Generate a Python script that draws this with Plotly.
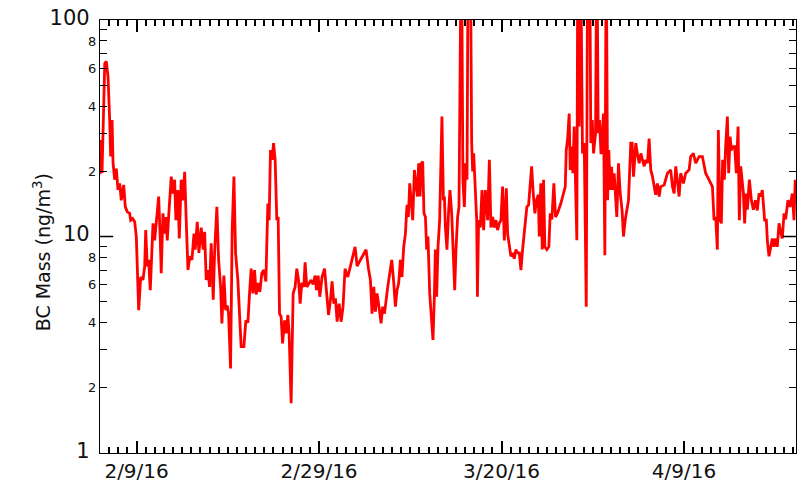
import pandas as pd
import plotly.graph_objects as go

# days after 2016-02-09 00:00
day_offset = [
    -4.04, -3.93, -3.79, -3.68, -3.49, -3.32, -3.13, -2.95, -2.84, -2.69, -2.58, -2.40, -2.22, -2.04, -1.85,
    -1.68, -1.41, -1.24, -1.02, -0.76, -0.65, -0.43, -0.21, -0.03, 0.23, 0.45, 0.70, 0.89, 1.00, 1.17,
    1.32, 1.50, 1.80, 1.98, 2.16, 2.42, 2.60, 2.70, 2.89, 3.08, 3.25, 3.36, 3.58, 3.80, 3.99,
    4.17, 4.31, 4.53, 4.68, 4.89, 5.08, 5.27, 5.44, 5.63, 5.85, 6.07, 6.29, 6.43, 6.65, 6.83,
    7.08, 7.30, 7.46, 7.63, 7.82, 8.00, 8.18, 8.40, 8.55, 8.80, 8.99, 9.21, 9.35, 9.57, 9.76,
    9.93, 10.08, 10.30, 10.48, 10.67, 10.85, 11.10, 11.46, 11.76, 11.98, 12.20, 12.38, 12.56, 12.75, 12.93,
    13.11, 13.29, 13.51, 13.73, 13.95, 14.17, 14.39, 14.53, 14.68, 14.86, 15.01, 15.19, 15.37, 15.52, 15.67,
    15.84, 16.00, 16.22, 16.39, 16.58, 16.72, 16.94, 17.16, 17.38, 17.56, 17.75, 17.93, 18.11, 18.33, 18.47,
    18.66, 18.91, 19.13, 19.35, 19.57, 19.72, 19.90, 20.08, 20.33, 20.60, 20.82, 21.04, 21.25, 21.43, 21.62,
    21.80, 21.98, 22.20, 22.42, 22.63, 22.85, 23.15, 23.51, 23.95, 24.17, 24.61, 25.15, 25.42, 25.63, 25.81,
    26.00, 26.18, 26.36, 26.62, 26.80, 26.98, 27.17, 27.53, 27.97, 28.19, 28.37, 28.55, 28.73, 28.92, 29.09,
    29.28, 29.47, 29.64, 29.79, 29.94, 30.08, 30.27, 30.45, 30.59, 30.78, 30.92, 31.07, 31.22, 31.36, 31.50,
    31.66, 31.80, 31.94, 32.13, 32.27, 32.49, 32.64, 32.75, 32.89, 33.04, 33.22, 33.47, 33.63, 33.74, 33.85,
    34.02, 34.21, 34.35, 34.54, 34.68, 34.87, 35.01, 35.19, 35.34, 35.45, 35.60, 35.77, 35.93, 36.07, 36.22,
    36.37, 36.57, 36.73, 36.84, 36.95, 37.09, 37.28, 37.36, 37.49, 37.68, 37.86, 38.04, 38.23, 38.48, 38.67,
    38.84, 39.03, 39.21, 39.39, 39.57, 39.76, 39.94, 40.12, 40.31, 40.53, 40.67, 40.89, 41.03, 41.22, 41.40,
    41.58, 41.76, 41.95, 42.13, 42.31, 42.56, 42.78, 42.97, 43.15, 43.30, 43.48, 43.66, 43.84, 44.03, 44.14,
    44.31, 44.47, 44.61, 44.75, 44.97, 45.19, 45.34, 45.52, 45.74, 45.92, 46.14, 46.50, 46.99, 47.10, 47.24,
    47.42, 47.53, 47.71, 47.82, 47.97, 48.11, 48.26, 48.37, 48.52, 48.66, 48.88, 49.07, 49.29, 49.46, 49.65,
    49.79, 49.95, 50.09, 50.31, 50.45, 50.60, 50.74, 50.91, 51.18, 51.33, 51.48, 51.63, 51.76, 51.91, 52.06,
    52.20, 52.35, 52.50, 52.64, 52.82, 53.01, 53.23, 53.37, 53.56, 53.73, 53.92, 54.17, 54.32, 54.47, 54.72,
    54.90, 55.09, 55.27, 55.45, 55.64, 55.81, 56.00, 56.18, 56.36, 56.54, 56.73, 56.90, 57.09, 57.28, 57.45,
    57.83, 58.19, 58.55, 58.74, 58.92, 59.10, 59.28, 59.47, 59.64, 59.94, 60.19, 60.56, 60.74, 61.03, 61.29,
    61.66, 62.02, 62.21, 62.38, 62.57, 62.75, 63.12, 63.30, 63.48, 63.66, 63.77, 63.96, 64.10, 64.24, 64.43,
    64.57, 64.76, 64.90, 65.06, 65.20, 65.34, 65.56, 65.74, 65.93, 66.07, 66.22, 66.40, 66.51, 66.65, 66.81,
    66.95, 67.17, 67.39, 67.61, 67.83, 68.04, 68.23, 68.41, 68.59, 68.70, 68.84, 69.03, 69.14, 69.32, 69.50,
    69.69, 69.87, 70.05, 70.23, 70.42, 70.59, 70.78, 70.97, 71.14, 71.40, 71.62, 71.88, 72.06, 72.20,
]

bc_mass = [
    19.4, 27.9, 19.6, 28.9, 63.0, 64.4, 54.7, 34.5, 23.4, 34.5, 21.8, 18.3, 20.6, 16.4, 17.6,
    14.7, 17.3, 13.7, 13.0, 12.8, 11.9, 12.1, 11.7, 10.0, 4.57, 6.5, 6.3, 7.3, 10.7, 7.3,
    7.8, 5.65, 11.5, 9.6, 11.5, 15.3, 9.6, 6.76, 12.8, 10.3, 12.3, 9.6, 13.7, 18.9, 15.8,
    18.3, 11.9, 16.4, 9.8, 18.3, 14.7, 19.9, 11.9, 7.0, 8.1, 7.8, 10.3, 8.7, 11.7, 8.4,
    11.0, 8.7, 10.5, 6.3, 7.0, 5.85, 9.3, 5.1, 8.4, 13.7, 7.8, 5.85, 3.97, 6.6, 4.57,
    4.8, 4.4, 2.46, 10.7, 18.9, 8.4, 6.3, 3.1, 3.1, 4.1, 4.0, 5.46, 7.1, 5.46, 7.0,
    5.4, 6.1, 5.55, 6.76, 7.0, 6.2, 14.2, 11.9, 25.1, 22.6, 27.0, 22.6, 11.9, 12.3, 4.4,
    4.26, 3.21, 4.1, 3.57, 4.34, 3.57, 1.70, 5.46, 5.85, 7.1, 6.3, 4.9, 6.1, 5.85, 7.6,
    5.85, 6.1, 6.3, 6.0, 6.6, 5.65, 6.6, 5.27, 6.5, 7.1, 5.65, 4.34, 5.1, 6.2, 4.9,
    5.18, 4.04, 4.9, 4.04, 4.74, 7.1, 6.5, 7.5, 8.96, 7.3, 7.9, 8.7, 7.1, 6.3, 4.4,
    5.85, 4.5, 5.46, 4.57, 3.97, 4.74, 4.4, 5.85, 7.8, 6.1, 4.74, 5.65, 6.1, 7.8, 6.5,
    8.96, 10.3, 14.0, 12.3, 17.6, 14.2, 11.9, 20.3, 17.6, 15.3, 21.8, 15.3, 21.8, 22.2, 12.8,
    12.3, 8.7, 10.0, 5.46, 4.57, 3.33, 5.27, 8.7, 5.27, 8.96, 11.9, 35.8, 14.7, 15.3, 11.0,
    8.7, 13.3, 16.4, 12.8, 8.7, 5.65, 8.7, 12.3, 13.7, 250.0, 300.0, 18.3, 13.7, 21.8, 18.3,
    400.0, 280.0, 27.0, 20.0, 24.2, 16.4, 11.9, 5.27, 11.9, 11.0, 16.4, 10.7, 16.4, 11.9, 22.6,
    11.0, 12.3, 11.0, 11.9, 10.7, 11.5, 11.9, 17.0, 9.6, 16.7, 10.3, 8.96, 8.1, 8.4, 7.9,
    8.7, 8.4, 8.4, 7.0, 8.7, 11.0, 13.7, 14.0, 18.3, 21.1, 15.8, 12.8, 14.7, 15.6, 10.0,
    17.6, 8.7, 18.3, 8.96, 8.7, 8.96, 12.8, 12.0, 17.6, 12.3, 12.8, 14.2, 17.0, 25.1, 27.9,
    37.0, 20.3, 26.0, 19.6, 32.2, 20.0, 9.6, 300.0, 32.2, 250.0, 24.2, 27.0, 4.74, 350.0, 300.0,
    27.0, 34.5, 24.2, 30.0, 280.0, 30.0, 34.5, 24.0, 37.0, 8.2, 260.0, 14.7, 25.1, 16.4, 21.0,
    16.4, 19.6, 14.7, 12.3, 21.8, 16.0, 13.0, 10.0, 11.9, 13.0, 14.7, 27.0, 27.0, 18.9, 27.0,
    24.0, 21.8, 24.2, 22.6, 21.1, 22.6, 21.8, 28.3, 20.3, 19.0, 17.0, 15.6, 17.6, 15.3, 17.0,
    17.3, 19.6, 20.3, 17.0, 15.8, 21.1, 18.5, 15.3, 19.6, 17.6, 19.6, 20.3, 23.4, 24.2, 21.8,
    23.4, 23.4, 21.1, 19.6, 18.9, 18.3, 17.0, 11.9, 12.3, 8.7, 31.0, 11.9, 11.5, 22.6, 18.3,
    26.0, 35.8, 19.6, 28.9, 25.0, 26.0, 26.0, 19.6, 32.2, 11.9, 21.1, 17.0, 16.0, 11.5, 15.8,
    13.3, 18.3, 14.7, 13.3, 14.7, 13.2, 15.8, 15.3, 16.4, 14.7, 11.9, 11.9, 9.6, 8.1, 9.0,
    9.8, 8.96, 9.8, 8.96, 11.5, 10.5, 9.8, 12.8, 12.0, 14.7, 13.7, 15.8, 11.9, 18.3,
]

base_date = pd.Timestamp("2016-02-09")
x_range = ["2016-02-04 23:45", "2016-04-21 06:45"]

major_tick_dates = ["2016-02-09", "2016-02-29", "2016-03-20", "2016-04-09"]
major_tick_text = ["2/9/16", "2/29/16", "3/20/16", "4/9/16"]

y_label_vals = [1, 2, 4, 6, 8, 10, 20, 40, 60, 80, 100]
y_label_text = ["1", "2", "4", "6", "8", "10", "2", "4", "6", "8", "100"]
y_decade_vals = [1, 10, 100]
y_unlabeled_vals = [3, 5, 7, 9, 30, 50, 70, 90]

dates = base_date + pd.to_timedelta(day_offset, unit="D")

FONT = "DejaVu Sans, Verdana, sans-serif"
AX = "black"
TXT = "#111111"


def fmt_label(val, txt):
    if val in y_decade_vals:
        return ("<span style='font-size:21px'>" + txt + "</span>"
                "<span style='font-size:21px'>\u00a0</span>")
    return txt


fig = go.Figure()
fig.add_trace(go.Scatter(x=dates, y=bc_mass, mode="lines",
                         line=dict(color="#ff0000", width=2.8)))

# longer decade ticks (left and right) at 10
shapes = []
for x0, x1 in [(0.0, 0.019), (0.981, 1.0)]:
    shapes.append(dict(type="line", xref="paper", yref="y", x0=x0, x1=x1,
                       y0=y_decade_vals[1], y1=y_decade_vals[1],
                       line=dict(color=AX, width=1.5), layer="above"))

fig.update_layout(
    width=797, height=484,
    margin=dict(l=100, r=1, t=20, b=31),
    plot_bgcolor="white",
    showlegend=False,
    xaxis=dict(
        type="date", range=x_range,
        tickvals=major_tick_dates, ticktext=major_tick_text,
        ticks="inside", ticklen=12, tickwidth=1.5, tickcolor=AX,
        minor=dict(ticks="inside", ticklen=6, dtick=86400000, tick0="2016-02-09",
                   tickcolor=AX),
        showline=True, linecolor=AX, mirror="ticks", showgrid=False,
        tickfont=dict(size=20, family=FONT, color=TXT),
    ),
    yaxis=dict(
        type="log", range=[0, 2],
        tickvals=y_label_vals,
        ticktext=[fmt_label(v, t) for v, t in zip(y_label_vals, y_label_text)],
        ticks="inside", ticklen=7, tickwidth=1.3, tickcolor=AX,
        minor=dict(ticks="inside", ticklen=7, tickvals=y_unlabeled_vals, tickcolor=AX),
        showline=True, linecolor=AX, mirror="ticks", showgrid=False,
        tickfont=dict(size=13, family=FONT, color=TXT),
    ),
    shapes=shapes,
    annotations=[dict(
        text="BC Mass (ng/m<sup>3</sup>)", textangle=-90,
        xref="paper", yref="paper", x=-0.083, y=0.464,
        xanchor="center", yanchor="middle", showarrow=False,
        font=dict(size=19, family=FONT, color=TXT),
    )],
)

fig.write_html("out.html")
